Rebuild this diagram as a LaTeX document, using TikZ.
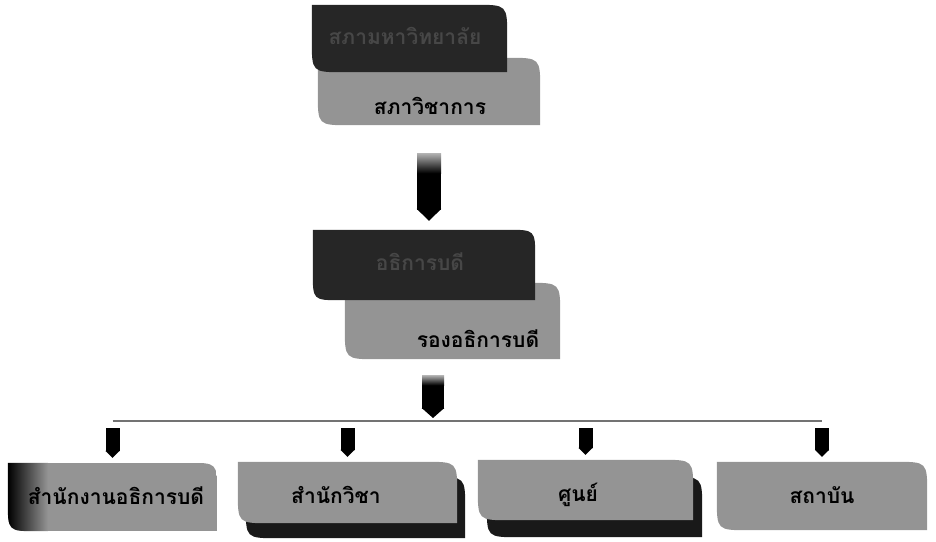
\documentclass[tikz,border=0pt]{standalone}
\usepackage{fontspec}
\newfontfamily\thaifont[Script=Thai]{Loma}
\usetikzlibrary{arrows.meta,backgrounds}

% box outline: rounded top right and bottom left corner
\newcommand{\boxpath}[4]{#1[#4] (#2.north west) -- ([xshift=-#3]#2.north east) .. controls (#2.north east) .. ([yshift=-#3]#2.north east) -- (#2.south east) -- ([xshift=#3]#2.south west) .. controls (#2.south west) .. ([yshift=#3]#2.south west) -- cycle;}

\tikzset{
  shapebox/.style={inner sep=0pt, minimum width=#1},
  lbl/.style={font=\thaifont\bfseries\fontsize{21}{24}\selectfont, inner sep=1pt},
  darkfill/.style={fill=black!85},
  lightfill/.style={fill=black!42},
  shadowfill/.style={fill=black!90},
  bigarr/.style={line width=24pt, -{Triangle[length=12pt, width=0pt 1]}},
  midarr/.style={line width=22pt, -{Triangle[length=10pt, width=0pt 1]}},
  smallarr/.style={line width=14pt, -{Triangle[length=7pt, width=0pt 1]}},
  arrowcap/.style={top color=black!30, bottom color=black}
}

\begin{document}
\begin{tikzpicture}[x=1pt, y=-1pt]
    \useasboundingbox (0,0) rectangle (936,541);

    % boxes of the upper part
    \node[shapebox=195pt, minimum height=67pt] (council) at (409.5,38.5) {};
    \node[shapebox=222pt, minimum height=67pt] (academic) at (429,91.5) {};
    \node[shapebox=222pt, minimum height=70pt] (president) at (424,265) {};
    \node[shapebox=215pt, minimum height=76pt] (vicepres) at (452.5,321) {};

    % boxes of the lower row
    \node[shapebox=209pt, minimum height=68pt] (office) at (112.5,497) {};
    \node[shapebox=219pt, minimum height=61pt] (school) at (347.5,492.5) {};
    \node[shapebox=215pt, minimum height=60pt] (centre) at (585.5,490) {};
    \node[shapebox=210pt, minimum height=68pt] (institute) at (822,496) {};

    \coordinate (hub) at (433,421);

    \begin{scope}[on background layer]
        \boxpath\fill{academic}{32pt}{lightfill}
        \boxpath\fill{council}{32pt}{darkfill}
        \boxpath\fill{vicepres}{32pt}{lightfill}
        \boxpath\fill{president}{28pt}{darkfill}

        \begin{scope}
            \boxpath\clip{office}{30pt}{}
            \fill[lightfill] (office.north west) rectangle (office.south east);
            \shade[left color=black, right color=black!42] (office.north west) rectangle ([xshift=40pt]office.south west);
        \end{scope}
        \begin{scope}[transform canvas={shift={(8pt,-15pt)}}]
            \boxpath\fill{school}{32pt}{shadowfill}
        \end{scope}
        \boxpath\fill{school}{32pt}{lightfill}
        \begin{scope}[transform canvas={shift={(9pt,-17pt)}}]
            \boxpath\fill{centre}{32pt}{shadowfill}
        \end{scope}
        \boxpath\fill{centre}{32pt}{lightfill}
        \boxpath\fill{institute}{32pt}{lightfill}
    \end{scope}

    % texts
    \node[lbl, text=black!72] (councilname) at (405,36) {สภามหาวิทยาลัย};
    \node[lbl] (academicname) at (430,106) {สภาวิชาการ};
    \node[lbl, text=black!72] (presidentname) at (420,262) {อธิการบดี};
    \node[lbl] (vicepresname) at (478,339) {รองอธิการบดี};
    \node[lbl] (officename) at (116,496) {สำนักงานอธิการบดี};
    \node[lbl] (schoolname) at (336,495) {สำนักวิชา};
    \node[lbl] (centrename) at (578,495) {ศูนย์};
    \node[lbl] (institutename) at (822,495) {สถาบัน};

    % connectors
    \draw[bigarr, shorten <=28pt, shorten >=9pt] (academic.south) -- (academic.south |- president.north);
    \draw[midarr, shorten <=16pt, shorten >=3pt] (hub |- vicepres.south) -- (hub);
    \draw[black!55, line width=1.5pt] (office.north |- hub) -- (institute.north |- hub);
    \foreach \b in {office,school,centre,institute}
        \draw[smallarr, shorten <=7pt, shorten >=5pt] (\b.north |- hub) -- (\b.north);

    % lighter tops of the arrows
    \shade[arrowcap] ([xshift=-12pt, yshift=-28pt]academic.south) rectangle ([xshift=12pt, yshift=-48pt]academic.south);
    \shade[arrowcap] ([xshift=-11pt, yshift=-16pt]hub |- vicepres.south) rectangle ([xshift=11pt, yshift=-26pt]hub |- vicepres.south);

\end{tikzpicture}
\end{document}
